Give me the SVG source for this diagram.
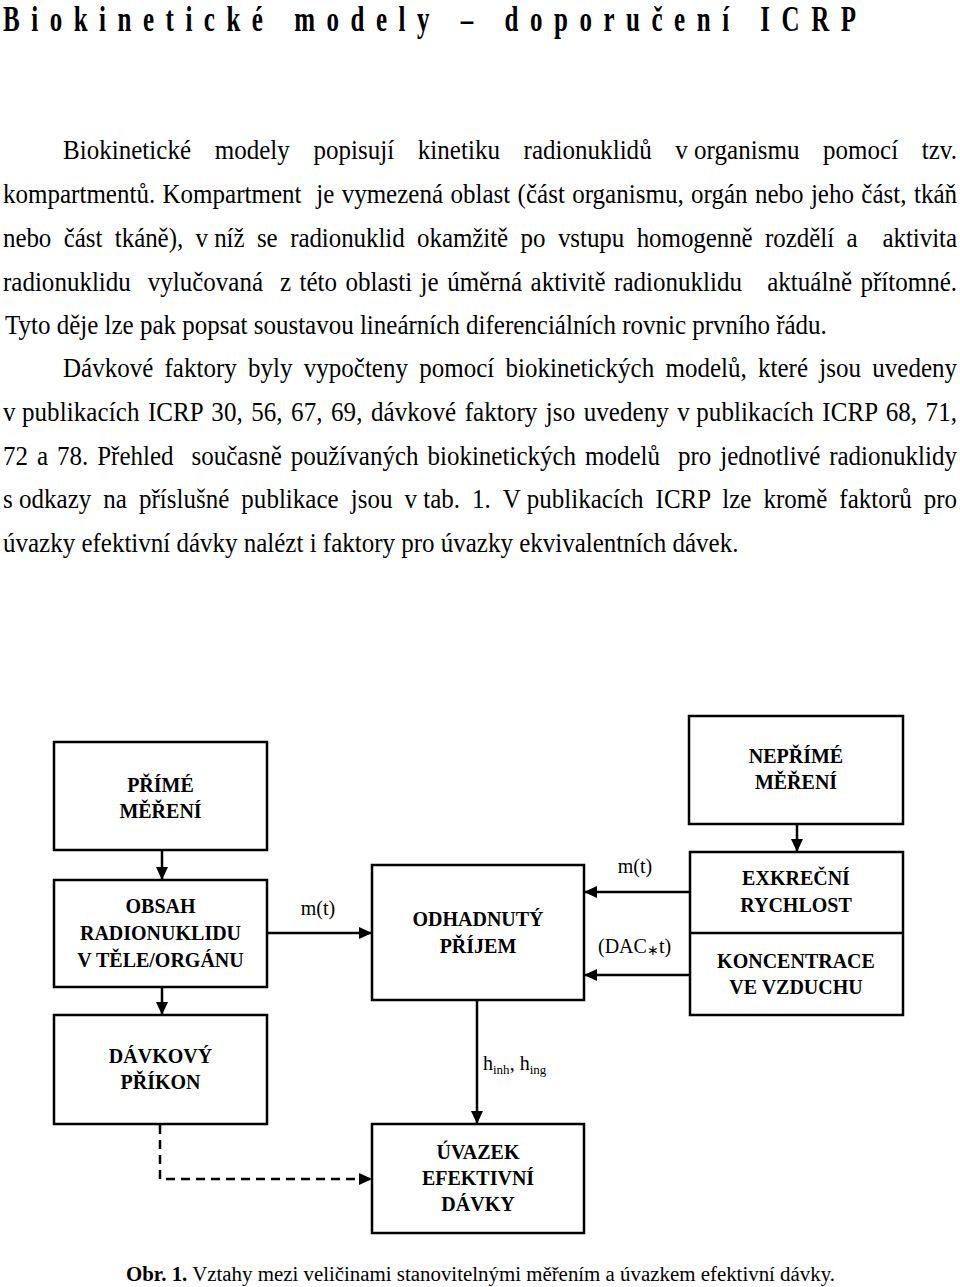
<svg xmlns="http://www.w3.org/2000/svg" width="960" height="1287" viewBox="0 0 960 1287">
<style>
.body{font-family:"Liberation Serif","Times New Roman",serif;font-size:25px;fill:#000}
.title{font-family:"Liberation Serif","Times New Roman",serif;font-size:25px;font-weight:bold;fill:#000}
.box{fill:#fff;stroke:#000;stroke-width:2.5}
.lbl{font-family:"Liberation Serif","Times New Roman",serif;font-size:20px;font-weight:bold;text-anchor:middle;fill:#000}
.elbl{font-family:"Liberation Serif","Times New Roman",serif;font-size:20px;fill:#000}
.conn{stroke:#000;stroke-width:2.5;fill:none}
.dash{stroke-dasharray:9 6}
.cap{font-family:"Liberation Serif","Times New Roman",serif;font-size:20.5px;fill:#000}
.tight{word-spacing:0}
</style>
<defs>
<marker id="arr" markerUnits="userSpaceOnUse" markerWidth="14" markerHeight="12" refX="13" refY="6" orient="auto">
<path d="M0,0 L13,6 L0,12 z" fill="#000"/>
</marker>
</defs>
<rect width="960" height="1287" fill="#fff"/>

<text class="title" transform="matrix(1 0 0 1.45 0 31)" x="3" y="0" letter-spacing="12" word-spacing="2" textLength="865" lengthAdjust="spacing">Biokinetické modely – doporučení ICRP</text>

<g id="text-body">
<text class="body" transform="matrix(1 0 0 1.1 0 159)" x="63" y="0" word-spacing="17.3" textLength="894" lengthAdjust="spacing">Biokinetické modely popisují kinetiku radionuklidů <tspan class="tight">v organismu</tspan> pomocí tzv.</text>
<text class="body" xml:space="preserve" transform="matrix(1 0 0 1.1 0 203)" x="3" y="0" word-spacing="1.1" textLength="954" lengthAdjust="spacing">kompartmentů. Kompartment  je vymezená oblast (část organismu, orgán nebo jeho část, tkáň</text>
<text class="body" xml:space="preserve" transform="matrix(1 0 0 1.1 0 247)" x="3" y="0" word-spacing="6.3" textLength="954" lengthAdjust="spacing">nebo část tkáně), <tspan class="tight">v níž</tspan> se radionuklid okamžitě po vstupu homogenně rozdělí a  aktivita</text>
<text class="body" xml:space="preserve" transform="matrix(1 0 0 1.1 0 291)" x="3" y="0" word-spacing="2.2" textLength="954" lengthAdjust="spacing">radionuklidu  vylučovaná  z této oblasti je úměrná aktivitě radionuklidu   aktuálně přítomné.</text>
<text class="body" transform="matrix(1 0 0 1.1 0 334)" x="5" y="0">Tyto děje lze pak popsat soustavou lineárních diferenciálních rovnic prvního řádu.</text>
<text class="body" transform="matrix(1 0 0 1.1 0 377)" x="63" y="0" word-spacing="5.05" textLength="894" lengthAdjust="spacing">Dávkové faktory byly vypočteny pomocí biokinetických modelů, které jsou uvedeny</text>
<text class="body" transform="matrix(1 0 0 1.1 0 421)" x="3" y="0" word-spacing="2.07" textLength="954" lengthAdjust="spacing"><tspan class="tight">v publikacích</tspan> ICRP 30, 56, 67, 69, dávkové faktory jso uvedeny <tspan class="tight">v publikacích</tspan> ICRP 68, 71,</text>
<text class="body" xml:space="preserve" transform="matrix(1 0 0 1.1 0 465)" x="3" y="0" word-spacing="2.7" textLength="954" lengthAdjust="spacing">72 a 78. Přehled  současně používaných biokinetických modelů  pro jednotlivé radionuklidy</text>
<text class="body" transform="matrix(1 0 0 1.1 0 508)" x="3" y="0" word-spacing="5.7" textLength="954" lengthAdjust="spacing"><tspan class="tight">s odkazy</tspan> na příslušné publikace jsou <tspan class="tight">v tab.</tspan> 1. <tspan class="tight">V publikacích</tspan> ICRP lze kromě faktorů pro</text>
<text class="body" transform="matrix(1 0 0 1.1 0 552)" x="3" y="0">úvazky efektivní dávky nalézt i faktory pro úvazky ekvivalentních dávek.</text>
</g>

<g id="connectors">
<line class="conn" x1="162" y1="850" x2="162" y2="880" marker-end="url(#arr)"/>
<line class="conn" x1="797" y1="824" x2="797" y2="852" marker-end="url(#arr)"/>
<line class="conn" x1="267" y1="933" x2="372" y2="933" marker-end="url(#arr)"/>
<line class="conn" x1="690" y1="892" x2="584" y2="892" marker-end="url(#arr)"/>
<line class="conn" x1="690" y1="975" x2="584" y2="975" marker-end="url(#arr)"/>
<line class="conn" x1="162" y1="987" x2="162" y2="1015" marker-end="url(#arr)"/>
<line class="conn" x1="477" y1="1000" x2="477" y2="1124" marker-end="url(#arr)"/>
<path class="conn dash" d="M160,1125 V1179 H372" marker-end="url(#arr)"/>
<text class="elbl" x="318" y="915" text-anchor="middle">m(t)</text>
<text class="elbl" x="635" y="873" text-anchor="middle">m(t)</text>
<text class="elbl" x="598" y="953">(DAC<tspan font-size="14" dy="2">∗</tspan><tspan dy="-2">t)</tspan></text>
<text class="elbl" x="483" y="1070">h<tspan font-size="13" dy="4">inh</tspan><tspan dy="-4">, h</tspan><tspan font-size="13" dy="4">ing</tspan></text>
</g>

<g id="node-prime">
<rect class="box" x="54" y="742" width="213" height="108"/>
<text class="lbl" x="160.5" y="792">PŘÍMÉ</text>
<text class="lbl" x="160.5" y="818">MĚŘENÍ</text>
</g>
<g id="node-neprime">
<rect class="box" x="689" y="716" width="214" height="108"/>
<text class="lbl" x="796" y="763">NEPŘÍMÉ</text>
<text class="lbl" x="796" y="789">MĚŘENÍ</text>
</g>
<g id="node-obsah">
<rect class="box" x="54" y="880" width="213" height="107"/>
<text class="lbl" x="160.5" y="913">OBSAH</text>
<text class="lbl" x="160.5" y="940">RADIONUKLIDU</text>
<text class="lbl" x="160.5" y="967">V TĚLE/ORGÁNU</text>
</g>
<g id="node-odhadnuty">
<rect class="box" x="372" y="865" width="212" height="135"/>
<text class="lbl" x="478" y="926">ODHADNUTÝ</text>
<text class="lbl" x="478" y="953">PŘÍJEM</text>
</g>
<g id="node-exkrecni">
<rect class="box" x="690" y="852" width="213" height="163"/>
<line x1="690" y1="933" x2="903" y2="933" stroke="#000" stroke-width="2.5"/>
<text class="lbl" x="796" y="885">EXKREČNÍ</text>
<text class="lbl" x="796" y="912">RYCHLOST</text>
<text class="lbl" x="796" y="968">KONCENTRACE</text>
<text class="lbl" x="796" y="994">VE VZDUCHU</text>
</g>
<g id="node-davkovy">
<rect class="box" x="54" y="1015" width="213" height="109"/>
<text class="lbl" x="160.5" y="1063">DÁVKOVÝ</text>
<text class="lbl" x="160.5" y="1089">PŘÍKON</text>
</g>
<g id="node-uvazek">
<rect class="box" x="372" y="1124" width="212" height="109"/>
<text class="lbl" x="478" y="1159">ÚVAZEK</text>
<text class="lbl" x="478" y="1185">EFEKTIVNÍ</text>
<text class="lbl" x="478" y="1211">DÁVKY</text>
</g>

<text class="cap" x="126" y="1281" textLength="709" lengthAdjust="spacingAndGlyphs"><tspan font-weight="bold">Obr. 1.</tspan> Vztahy mezi veličinami stanovitelnými měřením a úvazkem efektivní dávky.</text>
</svg>
